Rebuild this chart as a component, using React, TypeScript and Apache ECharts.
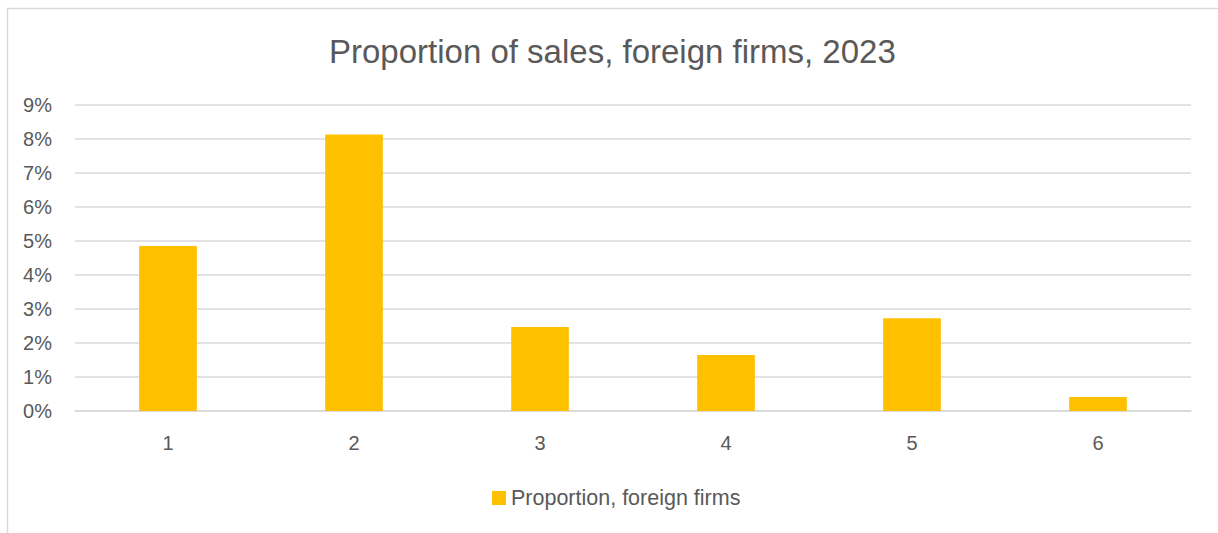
import React, { useEffect, useRef } from "react";
import * as echarts from "echarts";

const categories = ["1", "2", "3", "4", "5", "6"];
const proportionForeign = [0.0485, 0.0813, 0.0247, 0.0165, 0.0273, 0.0041];
const seriesName = "Proportion, foreign firms";
const titleText = "Proportion of sales, foreign firms, 2023";

export default function App() {
  const ref = useRef<HTMLDivElement>(null);
  useEffect(() => {
    if (!ref.current) return;
    const chart = echarts.init(ref.current, null, { renderer: "svg" });
    const font = "'Liberation Sans', Arial, sans-serif";
    chart.setOption({
      animation: false,
      backgroundColor: "#ffffff",
      title: {
        text: titleText,
        left: 324,
        top: 30,
        textStyle: { fontFamily: font, fontSize: 33, fontWeight: "normal", color: "#595959" },
      },
      legend: {
        data: [seriesName],
        left: 487,
        top: 482,
        icon: "rect",
        itemWidth: 14,
        itemHeight: 14,
        itemGap: 6,
        textStyle: { fontFamily: font, fontSize: 21.5, color: "#595959" },
      },
      grid: { left: 75, right: 27, top: 105, bottom: 122, containLabel: false },
      xAxis: {
        type: "category",
        data: categories,
        axisLine: { show: true, lineStyle: { color: "#d9d9d9", width: 1.5 } },
        axisTick: { show: false },
        axisLabel: { fontFamily: font, fontSize: 20, color: "#595959", margin: 22 },
      },
      yAxis: {
        type: "value",
        min: 0,
        max: 0.09,
        interval: 0.01,
        axisLine: { show: false },
        axisTick: { show: false },
        splitLine: { lineStyle: { color: "#d9d9d9", width: 1.5 } },
        axisLabel: {
          fontFamily: font,
          fontSize: 20,
          color: "#595959",
          margin: 23,
          formatter: (v: number) => `${Math.round(v * 100)}%`,
        },
      },
      series: [
        {
          name: seriesName,
          type: "bar",
          data: proportionForeign,
          barWidth: "31%",
          itemStyle: { color: "#FFC000" },
        },
      ],
      graphic: [
        {
          type: "rect",
          left: 5,
          top: 6,
          shape: { x: 0, y: 0, width: 1220, height: 600 },
          style: { fill: "none", stroke: "#d9d9d9", lineWidth: 1.5 },
          silent: true,
        },
      ],
    });
    return () => chart.dispose();
  }, []);
  return (
    <div
      ref={ref}
      style={{ position: "fixed", left: 0, top: 0, width: 1218, height: 533 }}
    />
  );
}
